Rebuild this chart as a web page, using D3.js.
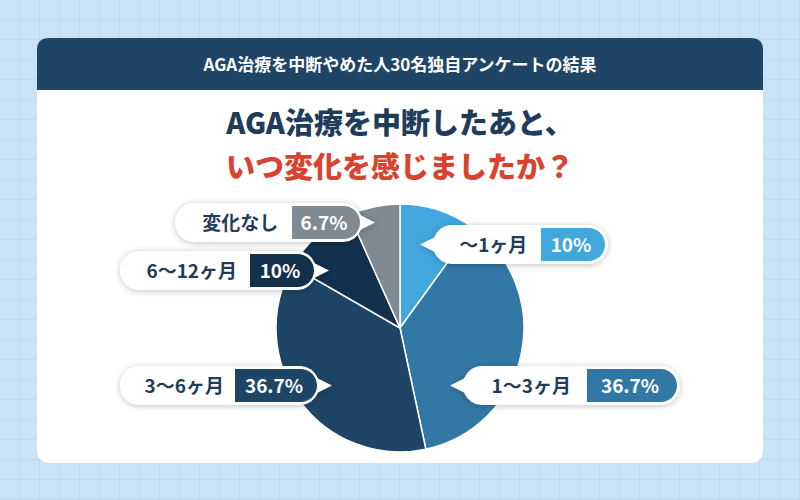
<!DOCTYPE html>
<html>
<head>
<meta charset="utf-8">
<style>
body { margin: 0; }
svg { display: block; font-family: "Noto Sans CJK JP", "Noto Sans", sans-serif; }
</style>
</head>
<body>
<svg width="800" height="500"></svg>
<script src="https://cdn.jsdelivr.net/npm/d3@7"></script>
<script>
// data
let categories = ['〜1ヶ月', '1〜3ヶ月', '3〜6ヶ月', '6〜12ヶ月', '変化なし'];
let values = [10, 36.7, 36.7, 10, 6.7];
let pctLabels = ['10%', '36.7%', '36.7%', '10%', '6.7%'];
let colors = ['#42a7dc', '#3278a5', '#1e4566', '#13304d', '#7f8a92'];

// callout boxes: [x, y, width, boxWidth, side of pointer]
let callouts = [
  [432, 225, 176, 64, 'left'],
  [462, 366, 218, 90, 'left'],
  [120, 366, 200, 82, 'right'],
  [120, 251, 197, 64, 'right'],
  [175, 203, 188, 68, 'right']
];

let svg = d3.select('svg');
let defs = svg.append('defs');

// background grid
let pat = defs.append('pattern').attr('id', 'grid')
  .attr('width', 20).attr('height', 20).attr('patternUnits', 'userSpaceOnUse');
pat.append('rect').attr('width', 20).attr('height', 20).attr('fill', '#c9e2f5');
pat.append('path').attr('d', 'M20 0V20H0').attr('fill', 'none')
  .attr('stroke', '#add2ee').attr('stroke-width', 1);
svg.append('rect').attr('width', 800).attr('height', 500).attr('fill', 'url(#grid)');

let sh = defs.append('filter').attr('id', 'shadow')
  .attr('x', '-20%').attr('y', '-40%').attr('width', '140%').attr('height', '180%');
sh.append('feDropShadow').attr('dx', 0).attr('dy', 1).attr('stdDeviation', 3)
  .attr('flood-color', '#000').attr('flood-opacity', 0.25);

// card
svg.append('rect').attr('x', 37).attr('y', 38).attr('width', 726).attr('height', 425)
  .attr('rx', 12).attr('fill', '#fff');
svg.append('path')
  .attr('d', 'M37 90V50Q37 38 49 38H751Q763 38 763 50V90Z')
  .attr('fill', '#1f4566');
svg.append('text').attr('x', 400).attr('y', 71).attr('text-anchor', 'middle')
  .attr('fill', '#fff').attr('font-size', 17).attr('font-weight', 700)
  .text('AGA治療を中断やめた人30名独自アンケートの結果');

svg.append('text').attr('x', 400).attr('y', 134).attr('text-anchor', 'middle')
  .attr('fill', '#1f3d5a').attr('font-size', 29).attr('font-weight', 900)
  .text('AGA治療を中断したあと、');
svg.append('text').attr('x', 400).attr('y', 178).attr('text-anchor', 'middle')
  .attr('fill', '#d8422e').attr('font-size', 29).attr('font-weight', 900)
  .text('いつ変化を感じましたか？');

// pie
let cx = 400, cy = 328, r = 124;
let pie = d3.pie().sort(null).value(d => d)(values);
let arc = d3.arc().innerRadius(0).outerRadius(r);
svg.append('g').attr('transform', `translate(${cx},${cy})`)
  .selectAll('path').data(pie).join('path')
  .attr('d', arc)
  .attr('fill', (d, i) => colors[i])
  .attr('stroke', '#fff').attr('stroke-width', 1.5);

// callouts
let h = 39;
callouts.forEach((c, i) => {
  let [x, y, w, bw, side] = c;
  let g = svg.append('g');
  let rr = h / 2, my = y + h / 2;
  let d;
  if (side === 'right') {
    d = `M${x + rr} ${y}H${x + w - rr}A${rr} ${rr} 0 0 1 ${x + w - 2} ${my - 7}L${x + w + 12} ${my}L${x + w - 2} ${my + 7}A${rr} ${rr} 0 0 1 ${x + w - rr} ${y + h}H${x + rr}A${rr} ${rr} 0 0 1 ${x + rr} ${y}Z`;
  } else {
    d = `M${x + rr} ${y}H${x + w - rr}A${rr} ${rr} 0 0 1 ${x + w - rr} ${y + h}H${x + rr}A${rr} ${rr} 0 0 1 ${x + 2} ${my + 7}L${x - 12} ${my}L${x + 2} ${my - 7}A${rr} ${rr} 0 0 1 ${x + rr} ${y}Z`;
  }
  g.append('path').attr('d', d).attr('fill', '#fff').attr('filter', 'url(#shadow)');
  let cid = 'clip' + i;
  defs.append('clipPath').attr('id', cid).append('rect')
    .attr('x', x + 3).attr('y', y + 3).attr('width', w - 6).attr('height', h - 6).attr('rx', rr - 3);
  g.append('rect').attr('x', x + w - 3 - bw).attr('y', y + 3).attr('width', bw).attr('height', h - 6)
    .attr('fill', colors[i]).attr('clip-path', `url(#${cid})`);
  g.append('text').attr('x', x + w - 3 - bw / 2 - 2).attr('y', my + 7).attr('text-anchor', 'middle')
    .attr('fill', '#fff').attr('font-size', 19).attr('font-weight', 700).text(pctLabels[i]);
  g.append('text').attr('x', (x + rr - 6 + x + w - 3 - bw) / 2).attr('y', my + 7).attr('text-anchor', 'middle')
    .attr('fill', '#1f3d5a').attr('font-size', 19).attr('font-weight', 700).text(categories[i]);
});
</script>
</body>
</html>
